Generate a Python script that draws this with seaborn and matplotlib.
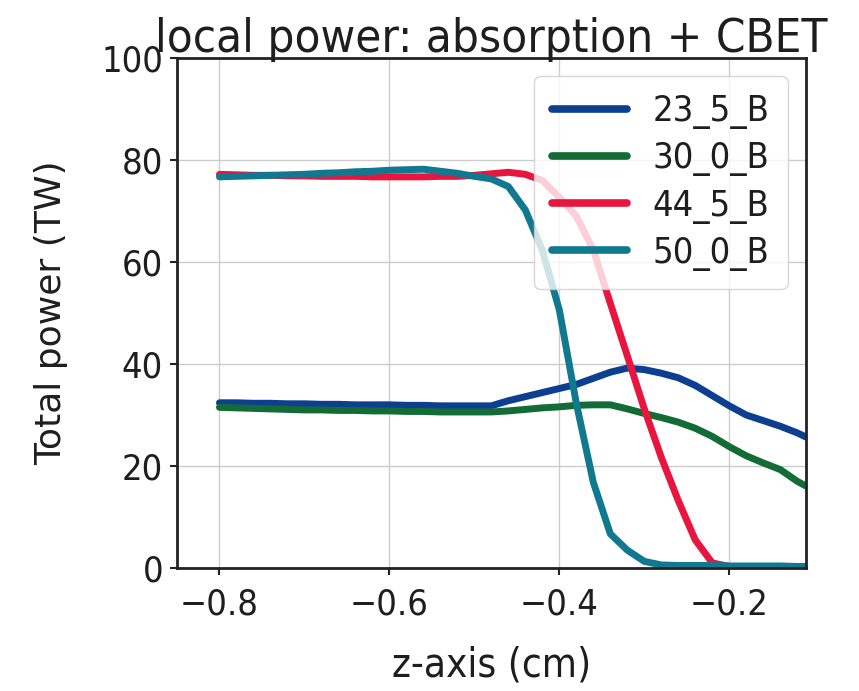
import numpy as np
import pandas as pd
import matplotlib
matplotlib.use("Agg")
import matplotlib.pyplot as plt
import seaborn as sns

# Position along the z-axis (cm)
z_cm = [-0.80, -0.78, -0.76, -0.74, -0.72, -0.70, -0.68, -0.66, -0.64, -0.62,
        -0.60, -0.58, -0.56, -0.54, -0.52, -0.50, -0.48, -0.46, -0.44, -0.42,
        -0.40, -0.38, -0.36, -0.34, -0.32, -0.30, -0.28, -0.26, -0.24, -0.22,
        -0.20, -0.18, -0.16, -0.14, -0.12, -0.11]

# Local power (TW) for each beam configuration
p_23_5_B = [32.4, 32.4, 32.3, 32.3, 32.2, 32.2, 32.1, 32.1, 32.0, 32.0,
            32.0, 31.9, 31.9, 31.8, 31.8, 31.8, 31.8, 32.8, 33.6, 34.4,
            35.2, 36.0, 37.2, 38.4, 39.2, 38.9, 38.2, 37.3, 35.8, 33.8,
            31.8, 30.0, 28.9, 27.8, 26.5, 25.7]
p_30_0_B = [31.5, 31.4, 31.3, 31.2, 31.1, 31.0, 31.0, 30.9, 30.9, 30.8,
            30.8, 30.7, 30.7, 30.6, 30.6, 30.6, 30.6, 30.8, 31.1, 31.4,
            31.6, 31.9, 32.0, 32.0, 31.2, 30.3, 29.5, 28.6, 27.4, 25.8,
            23.8, 22.0, 20.6, 19.3, 17.0, 16.1]
p_44_5_B = [77.2, 77.1, 77.0, 77.0, 76.9, 76.9, 76.8, 76.8, 76.8, 76.7,
            76.7, 76.7, 76.7, 76.8, 76.8, 77.0, 77.3, 77.6, 77.2, 76.0,
            72.7, 69.0, 62.4, 51.9, 41.6, 31.2, 21.7, 13.2, 5.5, 1.0,
            0.3, 0.2, 0.2, 0.2, 0.2, 0.2]
p_50_0_B = [76.7, 76.8, 76.9, 77.0, 77.1, 77.2, 77.4, 77.5, 77.7, 77.8,
            78.0, 78.1, 78.2, 77.8, 77.4, 76.8, 76.3, 74.8, 70.2, 62.3,
            50.6, 32.3, 16.8, 6.7, 3.5, 1.3, 0.6, 0.5, 0.5, 0.5,
            0.4, 0.4, 0.4, 0.4, 0.3, 0.3]

labels = ["23_5_B", "30_0_B", "44_5_B", "50_0_B"]
colors = ["#0d3f91", "#136b35", "#e8163f", "#10798f"]
x_ticks = [-0.8, -0.6, -0.4, -0.2]
y_ticks = [0, 20, 40, 60, 80, 100]

frames = []
for lab, vals in zip(labels, [p_23_5_B, p_30_0_B, p_44_5_B, p_50_0_B]):
    frames.append(pd.DataFrame({"z": z_cm, "power": vals, "beam": lab}))
df = pd.concat(frames, ignore_index=True)

sns.set_theme(style="whitegrid")
plt.rcParams["font.family"] = ["DejaVu Sans"]
plt.rcParams["font.stretch"] = "condensed"
plt.rcParams["text.color"] = "#1e1e1e"
plt.rcParams["xtick.color"] = "#1e1e1e"
plt.rcParams["ytick.color"] = "#1e1e1e"
plt.rcParams["axes.labelcolor"] = "#1e1e1e"

fig = plt.figure(figsize=(8.59, 6.91), dpi=100)
ax = fig.add_axes([0.206, 0.178, 0.732, 0.738])

sns.lineplot(data=df, x="z", y="power", hue="beam", hue_order=labels,
             palette=colors, linewidth=5, sort=False, ax=ax)

ax.set_xlim(-0.85, -0.11)
ax.set_ylim(0, 100)
ax.set_xticks(x_ticks)
ax.set_yticks(y_ticks)
ax.tick_params(axis="both", labelsize=26, length=5, width=1.5,
               color="#222222", bottom=True, left=True)
ax.tick_params(axis="x", pad=9)
ax.tick_params(axis="y", pad=5)
ax.grid(True, color="#cccccc", linewidth=1.0)

for side, sp in ax.spines.items():
    sp.set_color("#222222")
    sp.set_linewidth(2.0)

ax.set_title("local power: absorption + CBET", fontsize=34, pad=4)
ax.set_xlabel("z-axis (cm)", fontsize=29, labelpad=17)
ax.set_ylabel("Total power (TW)", fontsize=26, fontstretch="normal",
              labelpad=24)

leg = ax.legend(loc="upper right", fontsize=26, handlelength=2.1,
                labelspacing=0.34, handletextpad=0.7, borderpad=0.5,
                frameon=True, framealpha=0.8)
for h in leg.get_lines():
    h.set_linewidth(5.5)

fig.savefig("out.png", dpi=100)
